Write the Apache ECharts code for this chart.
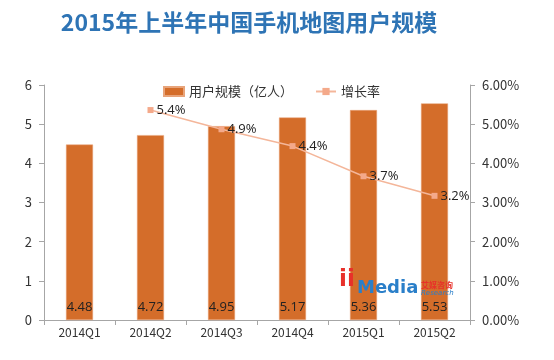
<!DOCTYPE html>
<html><head><meta charset="utf-8">
<script src="https://cdn.jsdelivr.net/npm/echarts@6/dist/echarts.min.js"></script>
<style>html,body{margin:0;padding:0;background:#fff}#c{width:554px;height:360px}</style>
</head><body><div id="c"></div>
<script>
const categories = ['2014Q1','2014Q2','2014Q3','2014Q4','2015Q1','2015Q2'];
const users = [4.48, 4.72, 4.95, 5.17, 5.36, 5.53];
const growth = [null, 5.36, 4.87, 4.44, 3.67, 3.17];
const leftTicks = [0,1,2,3,4,5,6];
const FONT = '"Noto Sans CJK SC", "Noto Sans", sans-serif';
const chart = echarts.init(document.getElementById('c'));
chart.setOption({
  animation: false,
  textStyle: {fontFamily: FONT},
  title: {text: '2015年上半年中国手机地图用户规模', left: 244, top: 6, textAlign: 'center',
    textStyle: {color: '#2E74B5', fontSize: 23, fontWeight: 'bold', fontFamily: FONT}},
  legend: {top: 80, left: 158, itemGap: 22, itemWidth: 20, itemHeight: 9,
    textStyle: {fontSize: 13, color: '#333', fontFamily: FONT},
    data: [{name: '用户规模（亿人）', icon: 'rect'}, {name: '增长率'}]},
  grid: {left: 44, right: 84, top: 85, bottom: 40},
  xAxis: {type: 'category', data: categories,
    axisLine: {lineStyle: {color: '#A6A6A6'}},
    axisTick: {show: true, length: 5, lineStyle: {color: '#A6A6A6'}},
    axisLabel: {color: '#333', fontSize: 12, margin: 6}},
  yAxis: [
    {type: 'value', min: 0, max: 6, interval: 1, position: 'left',
      axisLine: {show: true, lineStyle: {color: '#A6A6A6'}},
      axisTick: {show: true, length: 5, lineStyle: {color: '#A6A6A6'}},
      splitLine: {show: false},
      axisLabel: {color: '#333', fontSize: 13, margin: 12}},
    {type: 'value', min: 0, max: 6, interval: 1, position: 'right',
      axisLine: {show: true, lineStyle: {color: '#A6A6A6'}},
      axisTick: {show: true, length: 5, lineStyle: {color: '#A6A6A6'}},
      splitLine: {show: false},
      axisLabel: {color: '#333', fontSize: 13, margin: 12, formatter: v => v.toFixed(2) + '%'}}
  ],
  series: [
    {name: '用户规模（亿人）', type: 'bar', data: users, barWidth: '38%',
      itemStyle: {color: '#D46D2A', borderColor: '#E8A47A', borderWidth: 0.5},
      label: {show: true, position: 'insideBottom', distance: 6, color: '#222', fontSize: 13,
        fontFamily: '"Open Sans", sans-serif', formatter: p => p.value.toFixed(2)}},
    {name: '增长率', type: 'line', yAxisIndex: 1, data: growth,
      symbol: 'rect', symbolSize: 6,
      lineStyle: {color: '#F4B69A', width: 1.5},
      itemStyle: {color: '#F4A98A'},
      label: {show: true, position: 'right', distance: 3, color: '#222', fontSize: 13,
        fontFamily: '"Open Sans", sans-serif', formatter: p => p.value.toFixed(1) + '%'}}
  ],
  graphic: [
    {type: 'text', z: 100, left: 339, top: 269, style: {text: 'ii', fill: '#E8302A', font: 'bold 23px "DejaVu Sans"'}},
    {type: 'text', z: 100, left: 357, top: 279, style: {text: 'Media', fill: '#2A7FC9', font: 'bold 18px "DejaVu Sans"'}},
    {type: 'text', z: 100, left: 421, top: 281, style: {text: '艾媒咨询', fill: '#E8302A', font: 'bold 8px "Noto Sans CJK SC"'}},
    {type: 'text', z: 100, left: 421, top: 290, style: {text: 'Research', fill: '#2A7FC9', font: 'italic 7px "DejaVu Sans"'}}
  ]
});
</script></body></html>
